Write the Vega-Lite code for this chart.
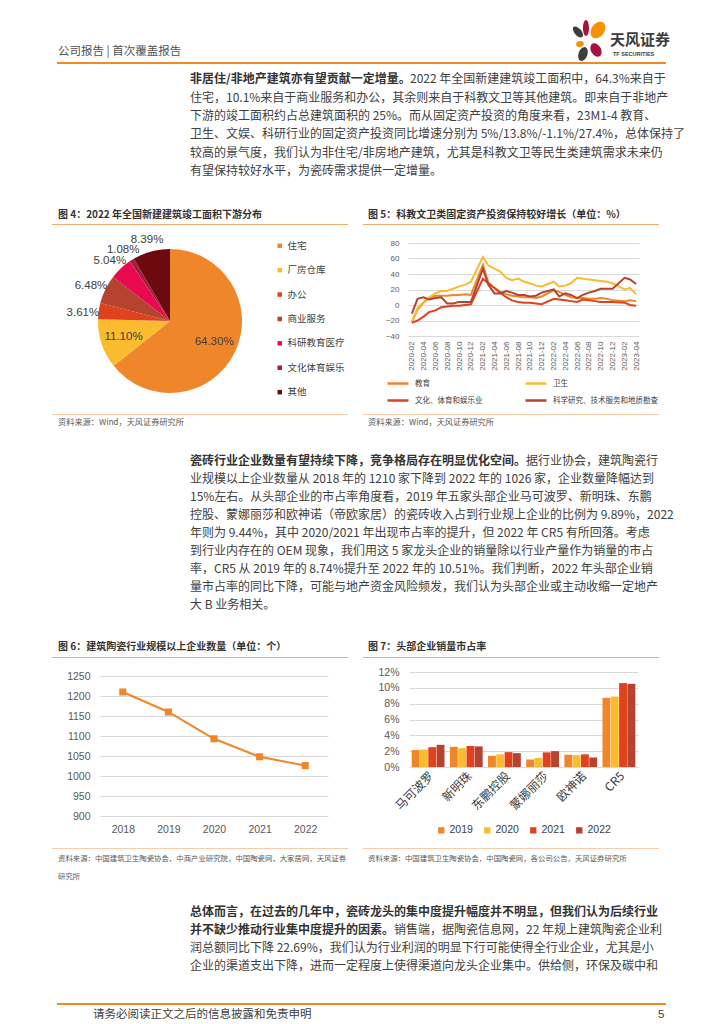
{
"$schema": "https://vega.github.io/schema/vega-lite/v6.json",
"usermeta": {"embedOptions": {"actions": false}},
"padding": 0,
"background": "white",
"bounds": "flush",
"spacing": 0,
"resolve": {"scale": {"color": "independent"}},
"config": {
  "view": {"stroke": null},
  "font": "Liberation Sans",
  "axis": {"labelColor": "#595959", "labelFont": "Liberation Sans", "ticks": false, "tickSize": 0, "domain": false, "gridColor": "#D9D9D9", "gridWidth": 1},
  "legend": {"padding": 0}
},
"vconcat": [
  {"width": 1, "height": 20, "data": {"values": []}, "mark": "text"},
  {"bounds": "flush", "spacing": 0, "hconcat": [
    {"width": 572, "height": 1, "data": {"values": []}, "mark": "text"},
    {"width": 34, "height": 42, "data": {"values": [{"k": 1}]},
     "layer": [
       {"mark": {"type": "point", "shape": "M -0.652 -0.322 A 0.167 0.333 -40 0 1 -0.396 -0.536 A 0.167 0.333 -40 0 1 -0.652 -0.322 Z M -0.487 0.546 A 0.214 0.357 20 0 1 -0.085 0.692 A 0.214 0.357 20 0 1 -0.487 0.546 Z", "size": 1764, "filled": true, "opacity": 1, "color": "#3D3D3D", "strokeWidth": 0}},
       {"mark": {"type": "point", "shape": "M -0.286 -0.619 A 0.143 0.381 0 0 1 0 -0.619 A 0.143 0.381 0 0 1 -0.286 -0.619 Z M 0.127 0.548 A 0.238 0.357 -30 0 1 0.539 0.310 A 0.238 0.357 -30 0 1 0.127 0.548 Z", "size": 1764, "filled": true, "opacity": 1, "color": "#A8123E", "strokeWidth": 0}},
       {"mark": {"type": "point", "shape": "M 0.175 -0.702 A 0.310 0.429 35 0 1 0.683 -0.346 A 0.310 0.429 35 0 1 0.175 -0.702 Z M -0.613 0.192 A 0.190 0.143 -15 0 1 -0.245 0.094 A 0.190 0.143 -15 0 1 -0.613 0.192 Z", "size": 1764, "filled": true, "opacity": 1, "color": "#F39200", "strokeWidth": 0}}
     ]}
  ]},
  {"width": 1, "height": 14, "data": {"values": []}, "mark": "text"},
  {"bounds": "flush", "spacing": 0, "hconcat": [
    {"width": 609, "height": 1, "data": {"values": []}, "mark": "text"},
    {"width": 2, "height": 12, "data": {"values": [{"t": "天风证券"}]}, "mark": {"type": "text", "align": "left", "baseline": "middle", "font": "Noto Sans CJK SC", "fontSize": 15, "fontWeight": "bold", "color": "#3C3C3C"}, "encoding": {"text": {"field": "t"}}}
  ]},
  {"width": 1, "height": 12, "data": {"values": []}, "mark": "text"},
  {"bounds": "flush", "spacing": 0, "hconcat": [
    {"width": 57, "height": 1, "data": {"values": []}, "mark": "text"},
    {"width": 2, "height": 12, "data": {"values": [{"t": "公司报告 | 首次覆盖报告"}]}, "mark": {"type": "text", "align": "left", "baseline": "middle", "font": "Noto Sans CJK SC", "fontSize": 11.5, "color": "#505050"}, "encoding": {"text": {"field": "t"}}},
    {"width": 553, "height": 1, "data": {"values": []}, "mark": "text"},
    {"width": 2, "height": 16, "data": {"values": [{"t": "TF SECURITIES"}]}, "mark": {"type": "text", "align": "left", "baseline": "middle", "font": "Liberation Sans", "fontSize": 5.5, "fontWeight": "bold", "color": "#3C3C3C"}, "encoding": {"text": {"field": "t"}}}
  ]},
  {"width": 1, "height": 16, "data": {"values": []}, "mark": "text"},
  {"bounds": "flush", "spacing": 0, "hconcat": [
    {"width": 57, "height": 1, "data": {"values": []}, "mark": "text"},
    {"width": 609, "height": 2, "data": {"values": []}, "mark": "text", "view": {"fill": "#F08A24"}}
  ]},
  {"width": 1, "height": 8, "data": {"values": []}, "mark": "text"},
  {"bounds": "flush", "spacing": 0, "hconcat": [
    {"width": 189, "height": 1, "data": {"values": []}, "mark": "text"},
    {"width": 2, "height": 18.333, "data": {"values": [{"t": "非居住/非地产建筑亦有望贡献一定增量。"}]}, "mark": {"type": "text", "align": "left", "baseline": "middle", "font": "Noto Sans CJK SC", "fontSize": 12, "fontWeight": "bold", "color": "#333333"}, "encoding": {"text": {"field": "t"}}},
    {"width": 218, "height": 1, "data": {"values": []}, "mark": "text"},
    {"width": 2, "height": 18.333, "data": {"values": [{"t": "2022 年全国新建建筑竣工面积中，64.3%来自于"}]}, "mark": {"type": "text", "align": "left", "baseline": "middle", "font": "Noto Sans CJK SC", "fontSize": 12, "color": "#404040"}, "encoding": {"text": {"field": "t"}}}
  ]},
  {"bounds": "flush", "spacing": 0, "hconcat": [
    {"width": 189, "height": 1, "data": {"values": []}, "mark": "text"},
    {"width": 2, "height": 110,
     "data": {"values": [
       {"i": 0, "t": ""},
       {"i": 1, "t": "住宅，10.1%来自于商业服务和办公，其余则来自于科教文卫等其他建筑。即来自于非地产"},
       {"i": 2, "t": "下游的竣工面积约占总建筑面积的 25%。而从固定资产投资的角度来看，23M1-4 教育、"},
       {"i": 3, "t": "卫生、文娱、科研行业的固定资产投资同比增速分别为 5%/13.8%/-1.1%/27.4%，总体保持了"},
       {"i": 4, "t": "较高的景气度，我们认为非住宅/非房地产建筑，尤其是科教文卫等民生类建筑需求未来仍"},
       {"i": 5, "t": "有望保持较好水平，为瓷砖需求提供一定增量。"}
     ]},
     "mark": {"type": "text", "align": "left", "baseline": "middle", "font": "Noto Sans CJK SC", "fontSize": 12, "color": "#404040"},
     "encoding": {"y": {"field": "i", "type": "ordinal", "axis": null, "scale": {"type": "point", "padding": 0.5}}, "text": {"field": "t"}}}
  ]},
  {"width": 1, "height": 139, "data": {"values": []}, "mark": "text"},
  {"bounds": "flush", "spacing": 0, "hconcat": [
    {"width": 57, "height": 1, "data": {"values": []}, "mark": "text"},
    {"width": 2, "height": 12, "data": {"values": [{"t": "图 4：2022 年全国新建建筑竣工面积下游分布"}]}, "mark": {"type": "text", "align": "left", "baseline": "middle", "font": "Noto Sans CJK SC", "fontSize": 10, "fontWeight": "bold", "color": "#333333"}, "encoding": {"text": {"field": "t"}}},
    {"width": 308, "height": 1, "data": {"values": []}, "mark": "text"},
    {"width": 2, "height": 12, "data": {"values": [{"t": "图 5：科教文卫类固定资产投资保持较好增长（单位：%）"}]}, "mark": {"type": "text", "align": "left", "baseline": "middle", "font": "Noto Sans CJK SC", "fontSize": 10, "fontWeight": "bold", "color": "#333333"}, "encoding": {"text": {"field": "t"}}}
  ]},
  {"width": 1, "height": 15, "data": {"values": []}, "mark": "text"},
  {"bounds": "flush", "spacing": 0, "hconcat": [
    {"width": 52, "height": 1, "data": {"values": []}, "mark": "text"},
    {"width": 296, "height": 1, "data": {"values": []}, "mark": "text", "view": {"fill": "#F5A96B"}},
    {"width": 15, "height": 1, "data": {"values": []}, "mark": "text"},
    {"width": 296, "height": 1, "data": {"values": []}, "mark": "text", "view": {"fill": "#F5A96B"}}
  ]},
  {"width": 1, "height": 19, "data": {"values": []}, "mark": "text"},
  {"bounds": "flush", "spacing": 0, "resolve": {"scale": {"color": "independent"}}, "hconcat": [
    {"width": 98, "height": 1, "data": {"values": []}, "mark": "text"},
    {"width": 144, "height": 156,
     "data": {"values": [
       {"k": "住宅", "v": 0.643, "o": 1},
       {"k": "厂房仓库", "v": 0.111, "o": 2},
       {"k": "办公", "v": 0.0361, "o": 3},
       {"k": "商业服务", "v": 0.0648, "o": 4},
       {"k": "科研教育医疗", "v": 0.0504, "o": 5},
       {"k": "文化体育娱乐", "v": 0.0108, "o": 6},
       {"k": "其他", "v": 0.0839, "o": 7}
     ]},
     "encoding": {
       "theta": {"field": "v", "type": "quantitative", "stack": true},
       "order": {"field": "o", "type": "quantitative"}
     },
     "layer": [
       {"mark": {"type": "arc", "outerRadius": 72},
        "encoding": {"color": {"field": "k", "type": "nominal",
          "scale": {"domain": ["住宅", "厂房仓库", "办公", "商业服务", "科研教育医疗", "文化体育娱乐", "其他"], "range": ["#F0862A", "#FBBB2E", "#E0411F", "#B5432F", "#E8094F", "#A31D3D", "#6B0A0F"]},
          "legend": {"orient": "none", "legendX": 177, "legendY": -2, "title": null, "symbolType": "square", "symbolSize": 20, "symbolStrokeWidth": 0, "labelFontSize": 9.5, "labelFont": "Noto Sans CJK SC", "labelColor": "#404040", "rowPadding": 13.4, "labelOffset": 3, "padding": 0}}}},
       {"mark": {"type": "text", "radius": 88, "dy": 4, "font": "Liberation Sans", "fontSize": 11.5, "color": "#404040"},
        "encoding": {"text": {"condition": {"test": "datum.v < 0.1", "field": "v", "type": "quantitative", "format": ".2%"}, "value": ""}}},
       {"mark": {"type": "text", "radius": 49, "font": "Liberation Sans", "fontSize": 11.5, "color": "#404040"},
        "encoding": {"text": {"condition": {"test": "datum.v >= 0.1", "field": "v", "type": "quantitative", "format": ".2%"}, "value": ""}}}
     ]},
    {"width": 166, "height": 1, "data": {"values": []}, "mark": "text"},
    {"width": 231, "height": 93,
     "data": {"values": [
       {"d": "2020-02-01", "教育": -22, "卫生": -22, "文化、体育和娱乐业": -23, "科学研究、技术服务和地质勘查": -11},
       {"d": "2020-03-01", "教育": -6, "卫生": -4, "文化、体育和娱乐业": -20, "科学研究、技术服务和地质勘查": 8},
       {"d": "2020-04-01", "教育": 3, "卫生": 4, "文化、体育和娱乐业": -15, "科学研究、技术服务和地质勘查": 10},
       {"d": "2020-05-01", "教育": 9, "卫生": 10, "文化、体育和娱乐业": -9, "科学研究、技术服务和地质勘查": 7},
       {"d": "2020-06-01", "教育": 12, "卫生": 15, "文化、体育和娱乐业": -7, "科学研究、技术服务和地质勘查": 9},
       {"d": "2020-07-01", "教育": 12, "卫生": 18, "文化、体育和娱乐业": -3, "科学研究、技术服务和地质勘查": 10},
       {"d": "2020-08-01", "教育": 12, "卫生": 18, "文化、体育和娱乐业": -2, "科学研究、技术服务和地质勘查": 2},
       {"d": "2020-09-01", "教育": 13, "卫生": 21, "文化、体育和娱乐业": -1, "科学研究、技术服务和地质勘查": 2},
       {"d": "2020-10-01", "教育": 13, "卫生": 24, "文化、体育和娱乐业": -1, "科学研究、技术服务和地质勘查": 4},
       {"d": "2020-11-01", "教育": 14, "卫生": 26, "文化、体育和娱乐业": 0, "科学研究、技术服务和地质勘查": 4},
       {"d": "2020-12-01", "教育": 13, "卫生": 30, "文化、体育和娱乐业": 1, "科学研究、技术服务和地质勘查": 4},
       {"d": "2021-02-01", "教育": 52, "卫生": 62, "文化、体育和娱乐业": 34, "科学研究、技术服务和地质勘查": 47},
       {"d": "2021-03-01", "教育": 29, "卫生": 51, "文化、体育和娱乐业": 28, "科学研究、技术服务和地质勘查": 26},
       {"d": "2021-04-01", "教育": 22, "卫生": 47, "文化、体育和娱乐业": 22, "科学研究、技术服务和地质勘查": 15},
       {"d": "2021-05-01", "教育": 17, "卫生": 43, "文化、体育和娱乐业": 16, "科学研究、技术服务和地质勘查": 15},
       {"d": "2021-06-01", "教育": 14, "卫生": 35, "文化、体育和娱乐业": 10, "科学研究、技术服务和地质勘查": 18},
       {"d": "2021-07-01", "教育": 12, "卫生": 32, "文化、体育和娱乐业": 6, "科学研究、技术服务和地质勘查": 16},
       {"d": "2021-08-01", "教育": 11, "卫生": 34, "文化、体育和娱乐业": 4, "科学研究、技术服务和地质勘查": 13},
       {"d": "2021-09-01", "教育": 10, "卫生": 30, "文化、体育和娱乐业": 3, "科学研究、技术服务和地质勘查": 13},
       {"d": "2021-10-01", "教育": 10, "卫生": 28, "文化、体育和娱乐业": 3, "科学研究、技术服务和地质勘查": 11},
       {"d": "2021-11-01", "教育": 9, "卫生": 25, "文化、体育和娱乐业": 2, "科学研究、技术服务和地质勘查": 12},
       {"d": "2021-12-01", "教育": 11, "卫生": 24, "文化、体育和娱乐业": 1, "科学研究、技术服务和地质勘查": 16},
       {"d": "2022-02-01", "教育": 19, "卫生": 30, "文化、体育和娱乐业": 8, "科学研究、技术服务和地质勘查": 20},
       {"d": "2022-03-01", "教育": 17, "卫生": 24, "文化、体育和娱乐业": 7, "科学研究、技术服务和地质勘查": 11},
       {"d": "2022-04-01", "教育": 13, "卫生": 25, "文化、体育和娱乐业": 6, "科学研究、技术服务和地质勘查": 15},
       {"d": "2022-05-01", "教育": 10, "卫生": 28, "文化、体育和娱乐业": 5, "科学研究、技术服务和地质勘查": 13},
       {"d": "2022-06-01", "教育": 9, "卫生": 35, "文化、体育和娱乐业": 4, "科学研究、技术服务和地质勘查": 9},
       {"d": "2022-07-01", "教育": 9, "卫生": 34, "文化、体育和娱乐业": 7, "科学研究、技术服务和地质勘查": 13},
       {"d": "2022-08-01", "教育": 8, "卫生": 33, "文化、体育和娱乐业": 6, "科学研究、技术服务和地质勘查": 16},
       {"d": "2022-09-01", "教育": 8, "卫生": 32, "文化、体育和娱乐业": 5, "科学研究、技术服务和地质勘查": 18},
       {"d": "2022-10-01", "教育": 9, "卫生": 31, "文化、体育和娱乐业": 4, "科学研究、技术服务和地质勘查": 21},
       {"d": "2022-11-01", "教育": 8, "卫生": 30, "文化、体育和娱乐业": 4, "科学研究、技术服务和地质勘查": 21},
       {"d": "2022-12-01", "教育": 6, "卫生": 28, "文化、体育和娱乐业": 4, "科学研究、技术服务和地质勘查": 21},
       {"d": "2023-02-01", "教育": 5, "卫生": 20, "文化、体育和娱乐业": 3, "科学研究、技术服务和地质勘查": 35},
       {"d": "2023-03-01", "教育": 6, "卫生": 22, "文化、体育和娱乐业": 0, "科学研究、技术服务和地质勘查": 33},
       {"d": "2023-04-01", "教育": 5, "卫生": 14, "文化、体育和娱乐业": -1, "科学研究、技术服务和地质勘查": 27}
     ]},
     "transform": [{"fold": ["教育", "卫生", "文化、体育和娱乐业", "科学研究、技术服务和地质勘查"], "as": ["s", "v"]}],
     "mark": {"type": "line", "strokeWidth": 2},
     "encoding": {
       "x": {"field": "d", "type": "temporal",
         "scale": {"type": "utc", "domain": [{"year": 2020, "month": 1, "date": 12, "utc": true}, {"year": 2023, "month": 4, "date": 16, "utc": true}]},
         "axis": {"title": null, "grid": false, "format": "%Y-%m", "labelAngle": -90, "labelFontSize": 8, "labelPadding": 5,
           "values": [
             {"year": 2020, "month": 2, "date": 1, "utc": true}, {"year": 2020, "month": 4, "date": 1, "utc": true}, {"year": 2020, "month": 6, "date": 1, "utc": true}, {"year": 2020, "month": 8, "date": 1, "utc": true}, {"year": 2020, "month": 10, "date": 1, "utc": true}, {"year": 2020, "month": 12, "date": 1, "utc": true},
             {"year": 2021, "month": 2, "date": 1, "utc": true}, {"year": 2021, "month": 4, "date": 1, "utc": true}, {"year": 2021, "month": 6, "date": 1, "utc": true}, {"year": 2021, "month": 8, "date": 1, "utc": true}, {"year": 2021, "month": 10, "date": 1, "utc": true}, {"year": 2021, "month": 12, "date": 1, "utc": true},
             {"year": 2022, "month": 2, "date": 1, "utc": true}, {"year": 2022, "month": 4, "date": 1, "utc": true}, {"year": 2022, "month": 6, "date": 1, "utc": true}, {"year": 2022, "month": 8, "date": 1, "utc": true}, {"year": 2022, "month": 10, "date": 1, "utc": true}, {"year": 2022, "month": 12, "date": 1, "utc": true},
             {"year": 2023, "month": 2, "date": 1, "utc": true}, {"year": 2023, "month": 4, "date": 1, "utc": true}
           ]}},
       "y": {"field": "v", "type": "quantitative", "scale": {"domain": [-40, 80], "nice": false, "zero": false},
         "axis": {"title": null, "grid": true, "values": [-40, -20, 0, 20, 40, 60, 80], "labelFontSize": 8, "labelPadding": 9}},
       "color": {"field": "s", "type": "nominal",
         "scale": {"domain": ["教育", "文化、体育和娱乐业", "卫生", "科学研究、技术服务和地质勘查"], "range": ["#F0862A", "#E0411F", "#FBBB2E", "#B5432F"]},
         "legend": {"orient": "none", "legendX": -22, "legendY": 128.5, "title": null, "columns": 2, "symbolType": "stroke", "symbolSize": 441, "symbolStrokeWidth": 2.5, "labelFontSize": 7.5, "labelFont": "Noto Sans CJK SC", "labelColor": "#404040", "columnPadding": 37, "rowPadding": -10, "labelOffset": 5, "padding": 0}}
     }}
  ]},
  {"width": 1, "height": 171, "data": {"values": []}, "mark": "text"},
  {"bounds": "flush", "spacing": 0, "hconcat": [
    {"width": 52, "height": 1, "data": {"values": []}, "mark": "text"},
    {"width": 296, "height": 1, "data": {"values": []}, "mark": "text", "view": {"fill": "#F8CBAD"}},
    {"width": 15, "height": 1, "data": {"values": []}, "mark": "text"},
    {"width": 296, "height": 1, "data": {"values": []}, "mark": "text", "view": {"fill": "#F8CBAD"}}
  ]},
  {"width": 1, "height": 4, "data": {"values": []}, "mark": "text"},
  {"bounds": "flush", "spacing": 0, "hconcat": [
    {"width": 57, "height": 1, "data": {"values": []}, "mark": "text"},
    {"width": 2, "height": 10, "data": {"values": [{"t": "资料来源：Wind，天风证券研究所"}]}, "mark": {"type": "text", "align": "left", "baseline": "middle", "font": "Noto Sans CJK SC", "fontSize": 8.2, "color": "#595959"}, "encoding": {"text": {"field": "t"}}},
    {"width": 308, "height": 1, "data": {"values": []}, "mark": "text"},
    {"width": 2, "height": 10, "data": {"values": [{"t": "资料来源：Wind，天风证券研究所"}]}, "mark": {"type": "text", "align": "left", "baseline": "middle", "font": "Noto Sans CJK SC", "fontSize": 8.2, "color": "#595959"}, "encoding": {"text": {"field": "t"}}}
  ]},
  {"width": 1, "height": 34, "data": {"values": []}, "mark": "text"},
  {"bounds": "flush", "spacing": 0, "hconcat": [
    {"width": 189, "height": 1, "data": {"values": []}, "mark": "text"},
    {"width": 2, "height": 18, "data": {"values": [{"t": "瓷砖行业企业数量有望持续下降，竞争格局存在明显优化空间。"}]}, "mark": {"type": "text", "align": "left", "baseline": "middle", "font": "Noto Sans CJK SC", "fontSize": 12, "fontWeight": "bold", "color": "#333333"}, "encoding": {"text": {"field": "t"}}},
    {"width": 334, "height": 1, "data": {"values": []}, "mark": "text"},
    {"width": 2, "height": 18, "data": {"values": [{"t": "据行业协会，建筑陶瓷行"}]}, "mark": {"type": "text", "align": "left", "baseline": "middle", "font": "Noto Sans CJK SC", "fontSize": 12, "color": "#404040"}, "encoding": {"text": {"field": "t"}}}
  ]},
  {"bounds": "flush", "spacing": 0, "hconcat": [
    {"width": 189, "height": 1, "data": {"values": []}, "mark": "text"},
    {"width": 2, "height": 162,
     "data": {"values": [
       {"i": 0, "t": ""},
       {"i": 1, "t": "业规模以上企业数量从 2018 年的 1210 家下降到 2022 年的 1026 家，企业数量降幅达到"},
       {"i": 2, "t": "15%左右。从头部企业的市占率角度看，2019 年五家头部企业马可波罗、新明珠、东鹏"},
       {"i": 3, "t": "控股、蒙娜丽莎和欧神诺（帝欧家居）的瓷砖收入占到行业规上企业的比例为 9.89%，2022"},
       {"i": 4, "t": "年则为 9.44%，其中 2020/2021 年出现市占率的提升，但 2022 年 CR5 有所回落。考虑"},
       {"i": 5, "t": "到行业内存在的 OEM 现象，我们用这 5 家龙头企业的销量除以行业产量作为销量的市占"},
       {"i": 6, "t": "率，CR5 从 2019 年的 8.74%提升至 2022 年的 10.51%。我们判断，2022 年头部企业销"},
       {"i": 7, "t": "量市占率的同比下降，可能与地产资金风险频发，我们认为头部企业或主动收缩一定地产"},
       {"i": 8, "t": "大 B 业务相关。"}
     ]},
     "mark": {"type": "text", "align": "left", "baseline": "middle", "font": "Noto Sans CJK SC", "fontSize": 12, "color": "#404040"},
     "encoding": {"y": {"field": "i", "type": "ordinal", "axis": null, "scale": {"type": "point", "padding": 0.5}}, "text": {"field": "t"}}}
  ]},
  {"width": 1, "height": 189, "data": {"values": []}, "mark": "text"},
  {"bounds": "flush", "spacing": 0, "hconcat": [
    {"width": 57, "height": 1, "data": {"values": []}, "mark": "text"},
    {"width": 2, "height": 12, "data": {"values": [{"t": "图 6：建筑陶瓷行业规模以上企业数量（单位：个）"}]}, "mark": {"type": "text", "align": "left", "baseline": "middle", "font": "Noto Sans CJK SC", "fontSize": 10, "fontWeight": "bold", "color": "#333333"}, "encoding": {"text": {"field": "t"}}},
    {"width": 308, "height": 1, "data": {"values": []}, "mark": "text"},
    {"width": 2, "height": 12, "data": {"values": [{"t": "图 7：头部企业销量市占率"}]}, "mark": {"type": "text", "align": "left", "baseline": "middle", "font": "Noto Sans CJK SC", "fontSize": 10, "fontWeight": "bold", "color": "#333333"}, "encoding": {"text": {"field": "t"}}}
  ]},
  {"width": 1, "height": 16, "data": {"values": []}, "mark": "text"},
  {"bounds": "flush", "spacing": 0, "hconcat": [
    {"width": 52, "height": 1, "data": {"values": []}, "mark": "text"},
    {"width": 296, "height": 1, "data": {"values": []}, "mark": "text", "view": {"fill": "#F5A96B"}},
    {"width": 15, "height": 1, "data": {"values": []}, "mark": "text"},
    {"width": 296, "height": 1, "data": {"values": []}, "mark": "text", "view": {"fill": "#F5A96B"}}
  ]},
  {"width": 1, "height": 15, "data": {"values": []}, "mark": "text"},
  {"bounds": "flush", "spacing": 0, "resolve": {"scale": {"color": "independent"}}, "hconcat": [
    {"width": 100, "height": 1, "data": {"values": []}, "mark": "text"},
    {"width": 228, "height": 144,
     "data": {"values": [
       {"yr": "2018", "n": 1210},
       {"yr": "2019", "n": 1160},
       {"yr": "2020", "n": 1093},
       {"yr": "2021", "n": 1048},
       {"yr": "2022", "n": 1026}
     ]},
     "encoding": {
       "x": {"field": "yr", "type": "ordinal", "scale": {"type": "point", "padding": 0.5},
         "axis": {"title": null, "labelAngle": 0, "labelFontSize": 10.5, "labelPadding": 8, "grid": false}},
       "y": {"field": "n", "type": "quantitative", "scale": {"domain": [900, 1260], "nice": false, "zero": false},
         "axis": {"title": null, "grid": true, "format": "d", "values": [900, 950, 1000, 1050, 1100, 1150, 1200, 1250], "labelFontSize": 10.5, "labelPadding": 10}}
     },
     "layer": [
       {"mark": {"type": "line", "color": "#F0862A", "strokeWidth": 2}},
       {"mark": {"type": "point", "shape": "square", "size": 50, "filled": true, "opacity": 1, "color": "#F0862A"}}
     ]},
    {"width": 81, "height": 1, "data": {"values": []}, "mark": "text"},
    {"width": 229, "height": 95,
     "data": {"values": [
       {"c": "马可波罗", "yr": "2019", "p": 0.0215}, {"c": "马可波罗", "yr": "2020", "p": 0.022}, {"c": "马可波罗", "yr": "2021", "p": 0.025}, {"c": "马可波罗", "yr": "2022", "p": 0.028},
       {"c": "新明珠", "yr": "2019", "p": 0.0255}, {"c": "新明珠", "yr": "2020", "p": 0.0238}, {"c": "新明珠", "yr": "2021", "p": 0.0265}, {"c": "新明珠", "yr": "2022", "p": 0.026},
       {"c": "东鹏控股", "yr": "2019", "p": 0.014}, {"c": "东鹏控股", "yr": "2020", "p": 0.016}, {"c": "东鹏控股", "yr": "2021", "p": 0.0188}, {"c": "东鹏控股", "yr": "2022", "p": 0.0175},
       {"c": "蒙娜丽莎", "yr": "2019", "p": 0.0095}, {"c": "蒙娜丽莎", "yr": "2020", "p": 0.0115}, {"c": "蒙娜丽莎", "yr": "2021", "p": 0.0185}, {"c": "蒙娜丽莎", "yr": "2022", "p": 0.02},
       {"c": "欧神诺", "yr": "2019", "p": 0.0155}, {"c": "欧神诺", "yr": "2020", "p": 0.015}, {"c": "欧神诺", "yr": "2021", "p": 0.016}, {"c": "欧神诺", "yr": "2022", "p": 0.012},
       {"c": "CR5", "yr": "2019", "p": 0.0874}, {"c": "CR5", "yr": "2020", "p": 0.089}, {"c": "CR5", "yr": "2021", "p": 0.106}, {"c": "CR5", "yr": "2022", "p": 0.1051}
     ]},
     "mark": {"type": "bar"},
     "encoding": {
       "x": {"field": "c", "type": "nominal", "sort": null, "scale": {"paddingInner": 0.14, "paddingOuter": 0.07},
         "axis": {"title": null, "labelAngle": -45, "labelFontSize": 12, "labelFont": "Noto Sans CJK SC", "labelColor": "#404040", "labelPadding": 3, "grid": false}},
       "xOffset": {"field": "yr", "type": "nominal", "scale": {"paddingInner": 0.05}},
       "y": {"field": "p", "type": "quantitative", "scale": {"domain": [0, 0.12], "nice": false},
         "axis": {"title": null, "grid": true, "format": ".0%", "values": [0, 0.02, 0.04, 0.06, 0.08, 0.1, 0.12], "labelFontSize": 10.5, "labelPadding": 10}},
       "color": {"field": "yr", "type": "nominal",
         "scale": {"domain": ["2019", "2020", "2021", "2022"], "range": ["#F0862A", "#FBBB2E", "#E0411F", "#B5432F"]},
         "legend": {"orient": "none", "legendX": 27, "legendY": 153, "direction": "horizontal", "title": null, "symbolType": "square", "symbolSize": 40, "symbolStrokeWidth": 0, "labelFontSize": 10.5, "labelFont": "Liberation Sans", "labelColor": "#404040", "columnPadding": 9, "labelOffset": 3, "padding": 0}}
     }}
  ]},
  {"width": 1, "height": 176, "data": {"values": []}, "mark": "text"},
  {"bounds": "flush", "spacing": 0, "hconcat": [
    {"width": 52, "height": 1, "data": {"values": []}, "mark": "text"},
    {"width": 296, "height": 1, "data": {"values": []}, "mark": "text", "view": {"fill": "#F8CBAD"}},
    {"width": 15, "height": 1, "data": {"values": []}, "mark": "text"},
    {"width": 296, "height": 1, "data": {"values": []}, "mark": "text", "view": {"fill": "#F8CBAD"}}
  ]},
  {"width": 1, "height": 6, "data": {"values": []}, "mark": "text"},
  {"bounds": "flush", "spacing": 0, "hconcat": [
    {"width": 57, "height": 1, "data": {"values": []}, "mark": "text"},
    {"width": 2, "height": 10, "data": {"values": [{"t": "资料来源：中国建筑卫生陶瓷协会，中商产业研究院，中国陶瓷网，大家居网，天风证券"}]}, "mark": {"type": "text", "align": "left", "baseline": "middle", "font": "Noto Sans CJK SC", "fontSize": 7.4, "color": "#595959"}, "encoding": {"text": {"field": "t"}}},
    {"width": 308, "height": 1, "data": {"values": []}, "mark": "text"},
    {"width": 2, "height": 10, "data": {"values": [{"t": "资料来源：中国建筑卫生陶瓷协会，中国陶瓷网，各公司公告，天风证券研究所"}]}, "mark": {"type": "text", "align": "left", "baseline": "middle", "font": "Noto Sans CJK SC", "fontSize": 7.4, "color": "#595959"}, "encoding": {"text": {"field": "t"}}}
  ]},
  {"width": 1, "height": 18, "data": {"values": []}, "mark": "text"},
  {"bounds": "flush", "spacing": 0, "hconcat": [
    {"width": 57, "height": 1, "data": {"values": []}, "mark": "text"},
    {"width": 2, "height": 10, "data": {"values": [{"t": "研究所"}]}, "mark": {"type": "text", "align": "left", "baseline": "middle", "font": "Noto Sans CJK SC", "fontSize": 7.4, "color": "#595959"}, "encoding": {"text": {"field": "t"}}}
  ]},
  {"width": 1, "height": 31, "data": {"values": []}, "mark": "text"},
  {"bounds": "flush", "spacing": 0, "hconcat": [
    {"width": 189, "height": 1, "data": {"values": []}, "mark": "text"},
    {"width": 2, "height": 18, "data": {"values": [{"t": "总体而言，在过去的几年中，瓷砖龙头的集中度提升幅度并不明显，但我们认为后续行业"}]}, "mark": {"type": "text", "align": "left", "baseline": "middle", "font": "Noto Sans CJK SC", "fontSize": 12, "fontWeight": "bold", "color": "#333333"}, "encoding": {"text": {"field": "t"}}}
  ]},
  {"bounds": "flush", "spacing": 0, "hconcat": [
    {"width": 189, "height": 1, "data": {"values": []}, "mark": "text"},
    {"width": 2, "height": 54, "data": {"values": [{"t": "并不缺少推动行业集中度提升的因素。"}]}, "mark": {"type": "text", "align": "left", "baseline": "middle", "font": "Noto Sans CJK SC", "fontSize": 12, "fontWeight": "bold", "color": "#333333"}, "encoding": {"text": {"field": "t"}}},
    {"width": 202, "height": 1, "data": {"values": []}, "mark": "text"},
    {"width": 2, "height": 54, "data": {"values": [{"t": "销售端，据陶瓷信息网，22 年规上建筑陶瓷企业利"}]}, "mark": {"type": "text", "align": "left", "baseline": "middle", "font": "Noto Sans CJK SC", "fontSize": 12, "color": "#404040"}, "encoding": {"text": {"field": "t"}}}
  ]},
  {"bounds": "flush", "spacing": 0, "hconcat": [
    {"width": 189, "height": 1, "data": {"values": []}, "mark": "text"},
    {"width": 2, "height": 72,
     "data": {"values": [
       {"i": 0, "t": ""},
       {"i": 1, "t": ""},
       {"i": 2, "t": "润总额同比下降 22.69%，我们认为行业利润的明显下行可能使得全行业企业，尤其是小"},
       {"i": 3, "t": "企业的渠道支出下降，进而一定程度上使得渠道向龙头企业集中。供给侧，环保及碳中和"}
     ]},
     "mark": {"type": "text", "align": "left", "baseline": "middle", "font": "Noto Sans CJK SC", "fontSize": 12, "color": "#404040"},
     "encoding": {"y": {"field": "i", "type": "ordinal", "axis": null, "scale": {"type": "point", "padding": 0.5}}, "text": {"field": "t"}}}
  ]},
  {"width": 1, "height": 100, "data": {"values": []}, "mark": "text"},
  {"bounds": "flush", "spacing": 0, "hconcat": [
    {"width": 57, "height": 1, "data": {"values": []}, "mark": "text"},
    {"width": 609, "height": 2, "data": {"values": []}, "mark": "text", "view": {"fill": "#F08A24"}}
  ]},
  {"width": 1, "height": 6, "data": {"values": []}, "mark": "text"},
  {"bounds": "flush", "spacing": 0, "hconcat": [
    {"width": 92, "height": 1, "data": {"values": []}, "mark": "text"},
    {"width": 2, "height": 12, "data": {"values": [{"t": "请务必阅读正文之后的信息披露和免责申明"}]}, "mark": {"type": "text", "align": "left", "baseline": "middle", "font": "Noto Sans CJK SC", "fontSize": 11.5, "color": "#404040"}, "encoding": {"text": {"field": "t"}}},
    {"width": 563, "height": 1, "data": {"values": []}, "mark": "text"},
    {"width": 2, "height": 12, "data": {"values": [{"t": "5"}]}, "mark": {"type": "text", "align": "left", "baseline": "middle", "font": "Liberation Sans", "fontSize": 11.5, "color": "#404040"}, "encoding": {"text": {"field": "t"}}}
  ]}
]
}
